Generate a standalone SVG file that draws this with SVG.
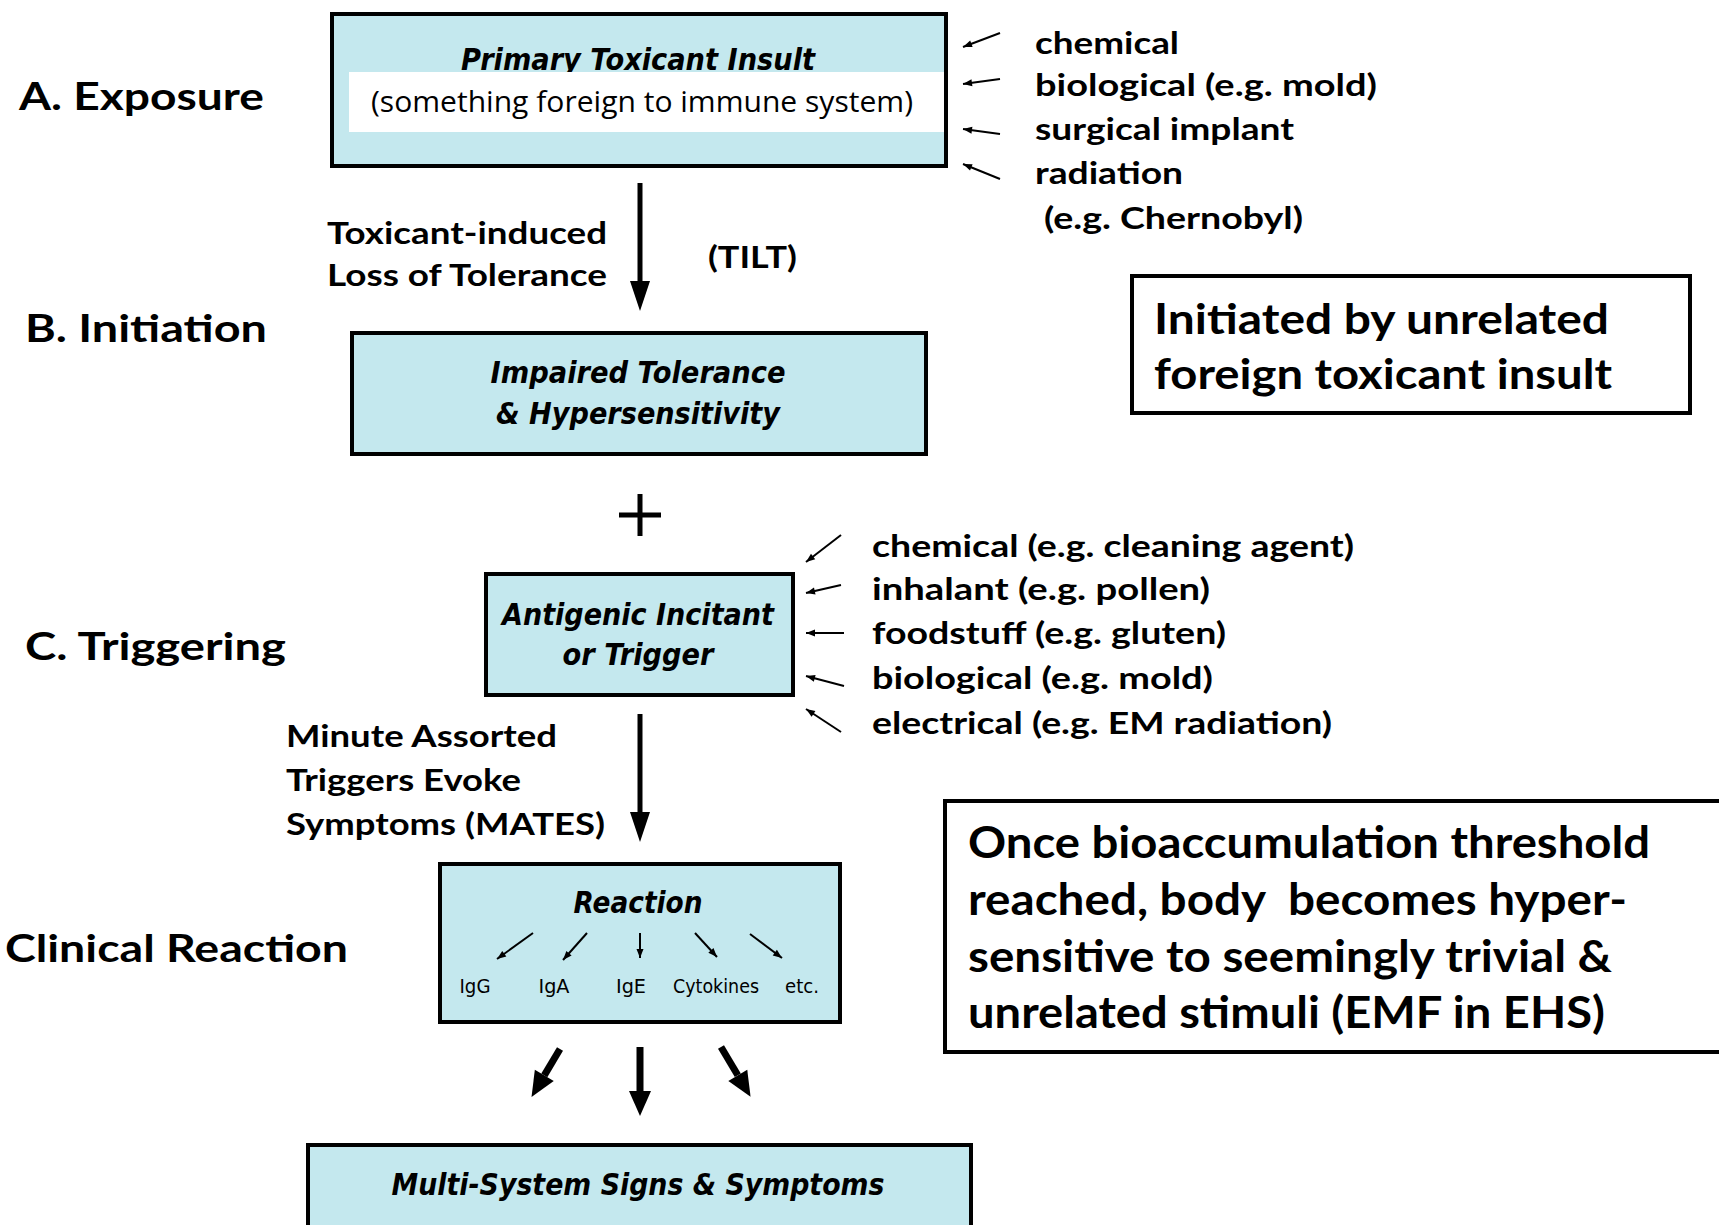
<svg xmlns="http://www.w3.org/2000/svg" width="1719" height="1225" viewBox="0 0 1719 1225">
<style>
.box{fill:#c4e8ee;stroke:#000;stroke-width:4}
.note{fill:#fff;stroke:#000;stroke-width:4}
.lab{font-family:Lato,"Open Sans",sans-serif;font-weight:700;fill:#000}
.stage{font-size:38px}
.side{font-size:31px}
.reg{font-family:"Open Sans",Lato,sans-serif;font-weight:400;fill:#000;font-size:29px}
.ttl{font-family:"DejaVu Sans",Verdana,sans-serif;font-weight:700;font-style:italic;font-size:30px;fill:#000;text-anchor:middle}
.small{font-family:"DejaVu Sans",Verdana,sans-serif;font-size:20px;fill:#000;text-anchor:middle}
.big{font-size:42px}
.big2{font-size:44px}
.thick{stroke:#000;stroke-width:5;fill:none;marker-end:url(#bigHead)}
.thick2{stroke:#000;stroke-width:7;fill:none;marker-end:url(#bigHead2)}
.thin{stroke:#000;stroke-width:2;fill:none;marker-end:url(#smHead)}
</style>
<defs>
<marker id="bigHead" markerUnits="userSpaceOnUse" markerWidth="32" markerHeight="24" refX="0" refY="0" orient="auto" overflow="visible">
<path d="M0,-10 L30,0 L0,10 Z" fill="#000"/>
</marker>
<marker id="bigHead2" markerUnits="userSpaceOnUse" markerWidth="28" markerHeight="26" refX="0" refY="0" orient="auto" overflow="visible">
<path d="M0,-11 L25,0 L0,11 Z" fill="#000"/>
</marker>
<marker id="smHead" markerUnits="userSpaceOnUse" markerWidth="10" markerHeight="8" refX="9" refY="0" orient="auto" overflow="visible">
<path d="M0,-3.5 L9,0 L0,3.5 Z" fill="#000"/>
</marker>
</defs>
<rect width="1719" height="1225" fill="#fff"/>

<g id="stage-labels">
<text class="lab stage" x="19" y="110" textLength="245" lengthAdjust="spacingAndGlyphs">A. Exposure</text>
<text class="lab stage" x="25" y="342" textLength="242" lengthAdjust="spacingAndGlyphs">B. Initiation</text>
<text class="lab stage" x="25" y="660" textLength="261" lengthAdjust="spacingAndGlyphs">C. Triggering</text>
<text class="lab stage" x="5" y="962" textLength="343" lengthAdjust="spacingAndGlyphs">Clinical Reaction</text>
</g>

<g id="box-primary">
<rect class="box" x="332" y="14" width="614" height="152"/>
<text class="ttl" x="638" y="70" textLength="354" lengthAdjust="spacingAndGlyphs">Primary Toxicant Insult</text>
<rect x="349" y="72" width="595" height="60" fill="#fff"/>
<text class="reg" x="371" y="112" textLength="542" lengthAdjust="spacingAndGlyphs">(something foreign to immune system)</text>
</g>

<g id="exposure-sources">
<text class="lab side" x="1035" y="54" textLength="144" lengthAdjust="spacingAndGlyphs">chemical</text>
<text class="lab side" x="1035" y="96" textLength="342" lengthAdjust="spacingAndGlyphs">biological (e.g. mold)</text>
<text class="lab side" x="1035" y="140" textLength="259" lengthAdjust="spacingAndGlyphs">surgical implant</text>
<text class="lab side" x="1035" y="184" textLength="148" lengthAdjust="spacingAndGlyphs">radiation</text>
<text class="lab side" x="1044" y="229" textLength="259" lengthAdjust="spacingAndGlyphs">(e.g. Chernobyl)</text>
</g>

<g id="label-tilt">
<text class="lab side" x="327" y="244" textLength="280" lengthAdjust="spacingAndGlyphs">Toxicant-induced</text>
<text class="lab side" x="327" y="286" textLength="280" lengthAdjust="spacingAndGlyphs">Loss of Tolerance</text>
<text class="lab side" x="708" y="268" textLength="89" lengthAdjust="spacingAndGlyphs">(TILT)</text>
</g>

<g id="box-impaired">
<rect class="box" x="352" y="333" width="574" height="121"/>
<text class="ttl" x="638" y="383" textLength="295" lengthAdjust="spacingAndGlyphs">Impaired Tolerance</text>
<text class="ttl" x="638" y="424" textLength="284" lengthAdjust="spacingAndGlyphs">&amp; Hypersensitivity</text>
</g>

<g id="note-initiated">
<rect class="note" x="1132" y="276" width="558" height="137"/>
<text class="lab big" x="1154" y="334" textLength="455" lengthAdjust="spacingAndGlyphs">Initiated by unrelated</text>
<text class="lab big" x="1154" y="389" textLength="458" lengthAdjust="spacingAndGlyphs">foreign toxicant insult</text>
</g>

<g id="plus">
<path d="M619,515 H661 M640,494 V536" stroke="#000" stroke-width="5"/>
</g>

<g id="box-antigenic">
<rect class="box" x="486" y="574" width="307" height="121"/>
<text class="ttl" x="638" y="625" textLength="272" lengthAdjust="spacingAndGlyphs">Antigenic Incitant</text>
<text class="ttl" x="638" y="665" textLength="151" lengthAdjust="spacingAndGlyphs">or Trigger</text>
</g>

<g id="trigger-sources">
<text class="lab side" x="872" y="557" textLength="482" lengthAdjust="spacingAndGlyphs">chemical (e.g. cleaning agent)</text>
<text class="lab side" x="872" y="600" textLength="338" lengthAdjust="spacingAndGlyphs">inhalant (e.g. pollen)</text>
<text class="lab side" x="872" y="644" textLength="354" lengthAdjust="spacingAndGlyphs">foodstuff (e.g. gluten)</text>
<text class="lab side" x="872" y="689" textLength="341" lengthAdjust="spacingAndGlyphs">biological (e.g. mold)</text>
<text class="lab side" x="872" y="734" textLength="460" lengthAdjust="spacingAndGlyphs">electrical (e.g. EM radiation)</text>
</g>

<g id="label-mates">
<text class="lab side" x="286" y="747" textLength="271" lengthAdjust="spacingAndGlyphs">Minute Assorted</text>
<text class="lab side" x="286" y="791" textLength="235" lengthAdjust="spacingAndGlyphs">Triggers Evoke</text>
<text class="lab side" x="286" y="835" textLength="319" lengthAdjust="spacingAndGlyphs">Symptoms (MATES)</text>
</g>

<g id="box-reaction">
<rect class="box" x="440" y="864" width="400" height="158"/>
<text class="ttl" x="638" y="913" textLength="129" lengthAdjust="spacingAndGlyphs">Reaction</text>
<text class="small" x="475" y="993" textLength="31" lengthAdjust="spacingAndGlyphs">IgG</text>
<text class="small" x="554" y="993" textLength="31" lengthAdjust="spacingAndGlyphs">IgA</text>
<text class="small" x="631" y="993" textLength="30" lengthAdjust="spacingAndGlyphs">IgE</text>
<text class="small" x="716" y="993" textLength="86" lengthAdjust="spacingAndGlyphs">Cytokines</text>
<text class="small" x="802" y="993" textLength="34" lengthAdjust="spacingAndGlyphs">etc.</text>
</g>

<g id="note-bioaccumulation">
<rect class="note" x="945" y="801" width="800" height="251"/>
<text class="lab big2" x="968" y="858" textLength="682" lengthAdjust="spacingAndGlyphs">Once bioaccumulation threshold</text>
<text class="lab big2" x="968" y="915" textLength="659" lengthAdjust="spacingAndGlyphs" style="white-space:pre">reached, body  becomes hyper-</text>
<text class="lab big2" x="968" y="972" textLength="644" lengthAdjust="spacingAndGlyphs">sensitive to seemingly trivial &amp;</text>
<text class="lab big2" x="968" y="1028" textLength="637" lengthAdjust="spacingAndGlyphs">unrelated stimuli (EMF in EHS)</text>
</g>

<g id="box-multisystem">
<rect class="box" x="308" y="1145" width="663" height="100"/>
<text class="ttl" x="638" y="1195" textLength="493" lengthAdjust="spacingAndGlyphs">Multi-System Signs &amp; Symptoms</text>
</g>

<g id="connectors">
<line class="thick" x1="640" y1="183" x2="640" y2="281"/>
<line class="thick" x1="640" y1="714" x2="640" y2="812"/>
<line class="thick2" x1="560" y1="1049" x2="544.3" y2="1075.4"/>
<line class="thick2" x1="640" y1="1047" x2="640" y2="1091"/>
<line class="thick2" x1="721" y1="1047" x2="737.8" y2="1075.3"/>
<line class="thin" x1="1000" y1="33" x2="963" y2="47"/>
<line class="thin" x1="1000" y1="79" x2="963" y2="84"/>
<line class="thin" x1="1000" y1="134" x2="963" y2="129"/>
<line class="thin" x1="1000" y1="179" x2="963" y2="164"/>
<line class="thin" x1="841" y1="535" x2="806" y2="562"/>
<line class="thin" x1="841" y1="585" x2="806" y2="593"/>
<line class="thin" x1="844" y1="633" x2="806" y2="633"/>
<line class="thin" x1="844" y1="686" x2="806" y2="676"/>
<line class="thin" x1="841" y1="732" x2="806" y2="709"/>
<line class="thin" x1="533" y1="933" x2="497" y2="959"/>
<line class="thin" x1="587" y1="933" x2="563" y2="960"/>
<line class="thin" x1="640" y1="933" x2="640" y2="958"/>
<line class="thin" x1="695" y1="933" x2="717" y2="957"/>
<line class="thin" x1="750" y1="934" x2="782" y2="958"/>
</g>
</svg>
